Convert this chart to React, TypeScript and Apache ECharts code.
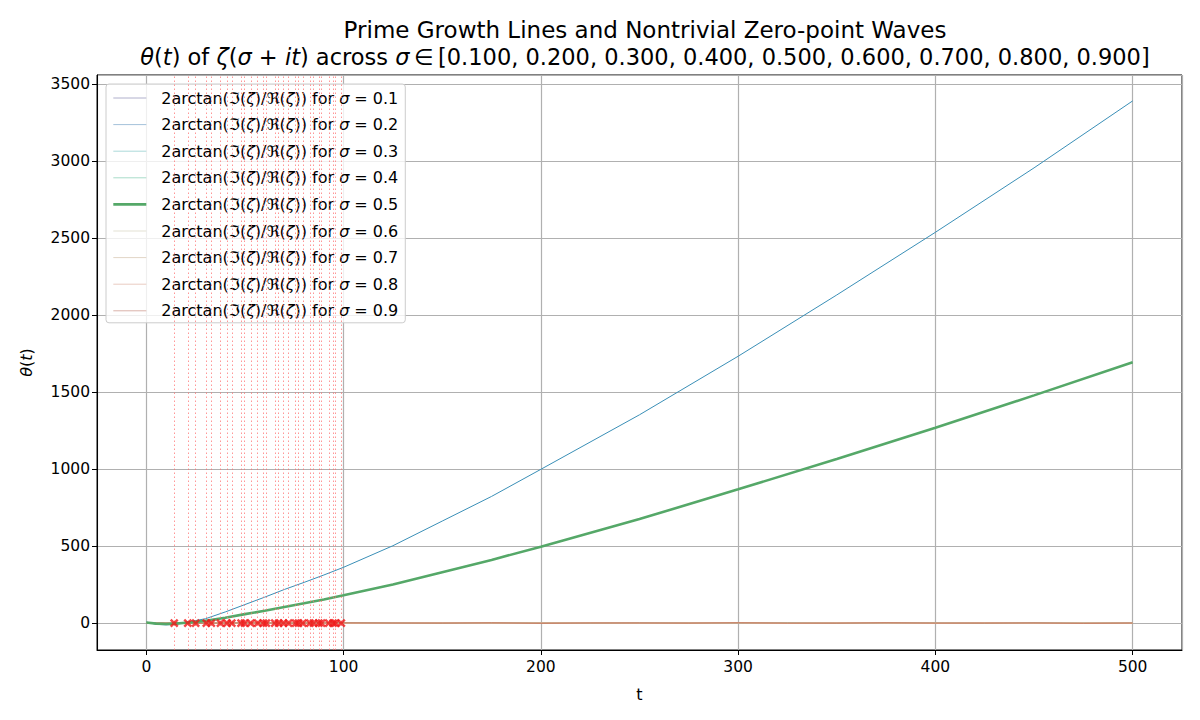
import React, { useEffect, useRef } from "react";
import * as echarts from "echarts";

// ---- data ----
const SIGMAS = ["0.1", "0.2", "0.3", "0.4", "0.5", "0.6", "0.7", "0.8", "0.9"];

// t samples for the rising curves
const T_MAIN = [0, 5, 10, 15, 20, 30, 40, 50, 60, 70, 80, 90, 100, 125, 150, 175, 200, 250, 300, 350, 400, 450, 500];
const THETA_S02 = [6, -8, -12, -8, 4, 28, 72, 120, 168, 218, 264, 312, 362, 502, 662, 822, 998, 1352, 1732, 2130, 2537, 2955, 3390];
const THETA_S05 = [3, -4, -6, -4, 2, 14, 34, 58, 80, 104, 128, 153, 180, 250, 330, 410, 496, 675, 868, 1065, 1268, 1478, 1693];

// t samples for the flat (wrapped) curves
const T_FLAT = [0, 25, 50, 75, 100, 125, 150, 175, 200, 225, 250, 275, 300, 325, 350, 375, 400, 425, 450, 475, 500];
const THETA_S01 = [0, 1, -1, 1, 0, -1, 1, 0, -1, 1, 0, 1, -1, 0, 1, -1, 0, 1, 0, -1, 0];
const THETA_S03 = [0, -1, 1, 0, 1, -1, 0, 1, 0, -1, 1, 0, 1, -1, 0, 1, -1, 0, 1, 0, 0];
const THETA_S04 = [0, 1, 0, -1, 1, 0, -1, 1, 1, 0, -1, 1, 0, 1, -1, 0, 1, -1, 0, 1, 0];
const THETA_S06 = [0, 1, -1, 2, 0, -1, 1, 2, -1, 0, 1, -2, 1, 0, 2, -1, 1, 0, -1, 2, 0];
const THETA_S07 = [0, -1, 2, 0, -2, 1, 0, -1, 2, 1, -1, 0, 2, -1, 0, 1, -2, 1, 0, -1, 0];
const THETA_S08 = [0, 2, -1, 1, -2, 0, 2, -1, 0, 1, -1, 2, 0, -2, 1, 0, -1, 2, -1, 0, 0];
const THETA_S09 = [0, -2, 1, -1, 2, 0, -1, 2, -2, 0, 1, -1, 2, 0, -1, 2, 0, -1, 1, -2, 0];

// nontrivial zeros (imaginary parts) below t = 100
const ZEROS = [
  14.13, 21.02, 25.01, 30.42, 32.94, 37.59, 40.92, 43.33, 48.01, 49.77,
  52.97, 56.45, 59.35, 60.83, 65.11, 67.08, 69.55, 72.07, 75.7, 77.14,
  79.34, 82.91, 84.74, 87.43, 88.81, 92.49, 94.65, 95.87, 98.83,
];

const X_MIN = -25;
const X_MAX = 525;
const Y_MIN = -175;
const Y_MAX = 3558;

// ---- styles ----
const LINE_COLORS = ["#8f8fb5", "#3a8fb7", "#74c2c4", "#72c8aa", "#55a868", "#d9d3b6", "#cdb596", "#d9a48a", "#c87d62"];
const LEGEND_COLORS = ["#b0b0cc", "#a4c2da", "#acd9d9", "#a9dcc9", "#55a868", "#e3e1d3", "#e2d6c6", "#e9cbc1", "#dbb3aa"];
const FONT = "DejaVu Sans";

const zip = (xs: number[], ys: number[]) => xs.map((x, i) => [x, ys[i]]);

const SERIES_DATA: number[][][] = [
  zip(T_FLAT, THETA_S01),
  zip(T_MAIN, THETA_S02),
  zip(T_FLAT, THETA_S03),
  zip(T_FLAT, THETA_S04),
  zip(T_MAIN, THETA_S05),
  zip(T_FLAT, THETA_S06),
  zip(T_FLAT, THETA_S07),
  zip(T_FLAT, THETA_S08),
  zip(T_FLAT, THETA_S09),
];

const seriesName = (s: string) => `sigma=${s}`;

export default function App() {
  const ref = useRef<HTMLDivElement>(null);

  useEffect(() => {
    const chart = echarts.init(ref.current!, null, { renderer: "svg" });

    const lineSeries = SIGMAS.map((s, i) => ({
      name: seriesName(s),
      type: "line",
      data: SERIES_DATA[i],
      symbol: "none",
      showSymbol: false,
      smooth: false,
      z: s === "0.5" ? 3 : 2,
      lineStyle: {
        color: LINE_COLORS[i],
        width: s === "0.5" ? 2.6 : 1,
      },
      itemStyle: { color: LINE_COLORS[i] },
      emphasis: { disabled: true },
    }));

    const rich = (size: number) => ({
      n: { fontFamily: FONT, fontWeight: "normal", fontSize: size, color: "#000" },
      i: { fontFamily: FONT, fontWeight: "normal", fontStyle: "italic", fontSize: size, color: "#000" },
    });

    const option: any = {
      animation: false,
      backgroundColor: "#ffffff",
      textStyle: { fontFamily: FONT },
      title: {
        left: 640,
        top: 11,
        textAlign: "center",
        text:
          "{a|Prime Growth Lines and Nontrivial Zero-point Waves}\n" +
          "{i|θ}{n|(}{i|t}{n|) of }{i|ζ}{n|(}{i|σ}{n| + }{i|it}{n|) across }{i|σ}{n|\u2009∈\u2009[0.100, 0.200, 0.300, 0.400, 0.500, 0.600, 0.700, 0.800, 0.900]}",
        textStyle: {
          fontWeight: "normal",
          rich: {
            a: { fontFamily: FONT, fontWeight: "normal", fontSize: 23, color: "#000", lineHeight: 27 },
            n: { fontFamily: FONT, fontWeight: "normal", fontSize: 22.5, color: "#000", lineHeight: 27 },
            i: { fontFamily: FONT, fontWeight: "normal", fontStyle: "italic", fontSize: 22.5, color: "#000", lineHeight: 27 },
          },
        },
      },
      grid: {
        left: 97,
        right: 18,
        top: 75,
        bottom: 70,
        show: true,
        borderColor: "#000",
        borderWidth: 1,
        backgroundColor: "transparent",
      },
      legend: {
        orient: "vertical",
        left: 106,
        top: 84,
        padding: [6, 7, 4, 6],
        itemWidth: 33,
        itemHeight: 16,
        itemGap: 10.6,
        borderColor: "#cccccc",
        borderWidth: 1,
        borderRadius: 3,
        backgroundColor: "rgba(255,255,255,0.8)",
        selectedMode: false,
        data: SIGMAS.map((s, i) => ({
          name: seriesName(s),
          lineStyle: { color: LEGEND_COLORS[i], width: s === "0.5" ? 2.6 : 1 },
          itemStyle: { color: "transparent", borderWidth: 0, opacity: 0 },
        })),
        formatter: (name: string) => {
          const s = name.split("=")[1];
          return `{n|2arctan(ℑ(}{i|ζ}{n|)/ℜ(}{i|ζ}{n|)) for }{i|σ}{n| = ${s}}`;
        },
        textStyle: {
          rich: rich(16),
          padding: [0, 0, 0, 10],
        },
      },
      xAxis: {
        type: "value",
        min: X_MIN,
        max: X_MAX,
        splitNumber: 5,
        name: "t",
        nameLocation: "middle",
        nameGap: 36,
        nameTextStyle: { fontFamily: FONT, fontSize: 16, color: "#000" },
        axisLine: { show: true, onZero: false, lineStyle: { color: "#000", width: 1 } },
        axisTick: { show: true, length: 5, lineStyle: { color: "#000", width: 1 } },
        axisLabel: {
          fontFamily: FONT,
          fontSize: 15.5,
          color: "#000",
          margin: 9,
          showMinLabel: false,
          showMaxLabel: false,
          formatter: (v: number) => String(v),
        },
        splitLine: { show: true, lineStyle: { color: "#b0b0b0", width: 1.2 } },
      },
      yAxis: {
        type: "value",
        min: Y_MIN,
        max: Y_MAX,
        splitNumber: 7,
        name: "{i|θ}{n|(}{i|t}{n|)}",
        nameLocation: "middle",
        nameGap: 63,
        nameRotate: 90,
        nameTextStyle: { rich: rich(16) },
        axisLine: { show: true, onZero: false, lineStyle: { color: "#000", width: 1 } },
        axisTick: { show: true, length: 5, lineStyle: { color: "#000", width: 1 } },
        axisLabel: {
          fontFamily: FONT,
          fontSize: 15.5,
          color: "#000",
          margin: 7,
          showMinLabel: false,
          showMaxLabel: false,
          formatter: (v: number) => String(v),
        },
        splitLine: { show: true, lineStyle: { color: "#b0b0b0", width: 1.2 } },
      },
      series: [
        {
          name: "zeroLines",
          type: "line",
          data: [],
          symbol: "none",
          z: 1,
          lineStyle: { color: "#ff6b6b" },
          itemStyle: { color: "#ff6b6b" },
          emphasis: { disabled: true },
          markLine: {
            silent: true,
            symbol: ["none", "none"],
            label: { show: false },
            animation: false,
            lineStyle: { color: "#ff6b6b", type: [1.5, 2.5], width: 1, opacity: 0.7 },
            emphasis: { disabled: true },
            data: ZEROS.map((z) => ({ xAxis: z })),
          },
        },
        ...lineSeries,
        {
          name: "zeros",
          type: "scatter",
          data: ZEROS.map((z) => [z, 0]),
          symbol: "path://M0,0L10,10M10,0L0,10",
          symbolSize: 7,
          z: 5,
          itemStyle: { color: "none", borderColor: "#f01818", borderWidth: 2.4 },
          emphasis: { disabled: true },
        },
      ],
    };

    chart.setOption(option);
    return () => chart.dispose();
  }, []);

  return <div ref={ref} style={{ position: "fixed", left: 0, top: 0, width: 1200, height: 720 }} />;
}
